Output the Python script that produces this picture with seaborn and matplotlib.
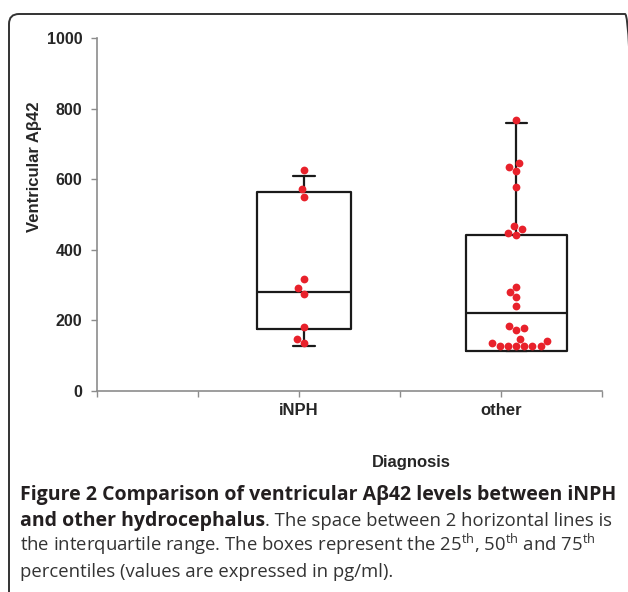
import numpy as np
import pandas as pd
import matplotlib
matplotlib.use("Agg")
import matplotlib.pyplot as plt
import seaborn as sns
from matplotlib.patches import FancyBboxPatch
from matplotlib.transforms import IdentityTransform

# data (pg/ml)
groups = ["iNPH", "other"]
inph_vals = [626, 571, 550, 316, 291, 275, 182, 146, 137]
other_vals = [768, 645, 635, 624, 577, 467, 458, 448, 442, 294, 281, 267, 242,
              184, 178, 173, 147, 142, 135, 128, 128, 128, 128, 128, 128]

# box summaries as drawn (25th, 50th, 75th, whisker ends)
box_q1 = [175, 114]
box_med = [280, 220]
box_q3 = [563, 442]
whisker_lo = [128, 114]
whisker_hi = [609, 760]

W, H = 628, 592
group_pos = [2.05, 4.15]
label_pos = [2, 4]
red = "#e8212b"
ink = "#1a1a1a"
axis_gray = "#8c8c8c"

sns.set_style("white")
plt.rcParams["font.family"] = ["Liberation Sans", "DejaVu Sans"]
plt.rcParams["mathtext.fontset"] = "custom"
plt.rcParams["mathtext.rm"] = "Open Sans"
plt.rcParams["mathtext.it"] = "Open Sans:italic"
plt.rcParams["mathtext.bf"] = "Open Sans:bold"

fig = plt.figure(figsize=(W / 100, H / 100), dpi=100)
ax = fig.add_axes([97 / W, 1 - 391 / H, 505 / W, 353 / H])

stats = []
for i, g in enumerate(groups):
    stats.append(dict(label=g, whislo=whisker_lo[i], q1=box_q1[i], med=box_med[i],
                      q3=box_q3[i], whishi=whisker_hi[i], fliers=[]))
line_kw = dict(color=ink, linewidth=1.6)
ax.bxp(stats, positions=group_pos, widths=[0.93, 1.0], capwidths=[0.21, 0.21],
       showfliers=False, manage_ticks=False,
       boxprops=line_kw, medianprops=line_kw, whiskerprops=line_kw, capprops=line_kw)

df = pd.DataFrame({
    "pos": [group_pos[0]] * len(inph_vals) + [group_pos[1]] * len(other_vals),
    "val": inph_vals + other_vals,
})
sns.swarmplot(data=df, x="pos", y="val", native_scale=True, orient="x",
              color=red, size=5.6, linewidth=0, ax=ax, zorder=4)

ax.set_xlim(0, 5)
ax.set_ylim(0, 1000)
ax.set_yticks(np.arange(0, 1001, 200))
ax.set_xticks(np.arange(0, 6))
ax.set_xticklabels([])
ax.tick_params(axis="x", bottom=True, length=4.5, width=1, color=axis_gray, direction="out")
ax.tick_params(axis="y", left=True, length=4.5, width=1, color=axis_gray, direction="out",
               pad=6, labelsize=11.5)
for lbl in ax.get_yticklabels():
    lbl.set_fontweight("bold")
for x, g in zip(label_pos, groups):
    ax.text(x, -0.055, g, transform=ax.get_xaxis_transform(), ha="center", va="center",
            fontsize=12, fontweight="bold")
ax.set_xlabel("")
ax.set_ylabel("")
for side in ["top", "right"]:
    ax.spines[side].set_visible(False)
for side in ["left", "bottom"]:
    ax.spines[side].set_color(axis_gray)
    ax.spines[side].set_linewidth(1.2)

fig.text(411 / W, 1 - 467 / H, "Diagnosis", ha="center", va="baseline",
         fontsize=12, fontweight="bold")
fig.text(34 / W, 1 - 167 / H, "Ventricular A\u03b242", ha="center", va="center",
         rotation=90, fontsize=12, fontweight="bold")

# rounded frame around the figure panel
frame = FancyBboxPatch((9, -30), 626, H - 14 + 30, boxstyle="round,pad=0,rounding_size=10",
                       transform=IdentityTransform(), facecolor="none",
                       edgecolor="#333333", linewidth=1.4)
fig.patches.append(frame)

# caption
bold_font = dict(family=["Open Sans", "DejaVu Sans"], fontsize=14, color="#231f20",
                 va="baseline", fontweight="bold")
reg_font = dict(family=["Open Sans", "DejaVu Sans"], fontsize=13.3, color="#333333",
                va="baseline")
x0 = 20 / W
fig.text(x0, 1 - 500 / H, "Figure 2 Comparison of ventricular A\u03b242 levels between iNPH",
         **bold_font)
bold_part = fig.text(x0, 1 - 526 / H, "and other hydrocephalus", **bold_font)
renderer = fig.canvas.get_renderer()
bb = bold_part.get_window_extent(renderer)
fig.text(bb.x1 / W, 1 - 526 / H, ". The space between 2 horizontal lines is", **reg_font)
fig.text(x0, 1 - 551 / H,
         r"the interquartile range. The boxes represent the 25$^{\mathrm{th}}$, "
         r"50$^{\mathrm{th}}$ and 75$^{\mathrm{th}}$", **reg_font)
fig.text(x0, 1 - 577 / H, "percentiles (values are expressed in pg/ml).", **reg_font)

fig.savefig("out.png", dpi=100)
